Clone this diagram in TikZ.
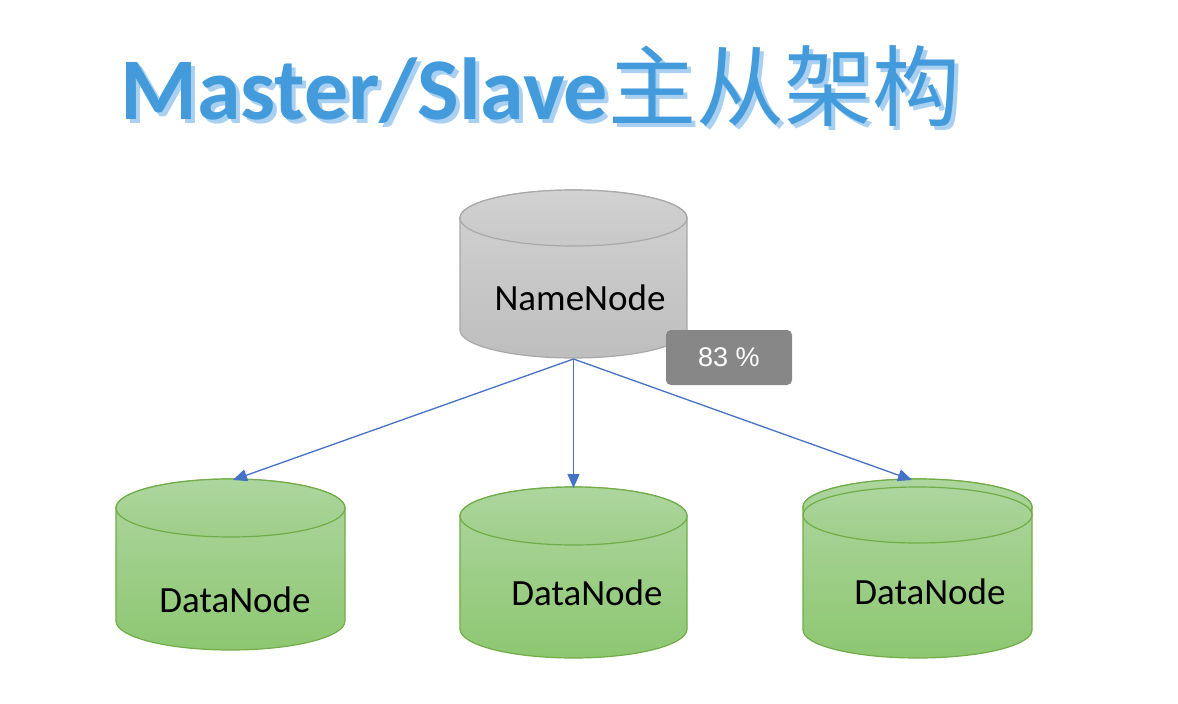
\documentclass[tikz,border=0pt]{standalone}
\usepackage{fontspec}
\setmainfont{Carlito}
\newfontfamily\cjk{Noto Sans CJK SC}
\newfontfamily\arialf{Liberation Sans}
\usetikzlibrary{arrows.meta}
\definecolor{titleblue}{HTML}{449BDB}
\definecolor{titleshadow}{HTML}{A9D0F0}
\definecolor{arrowblue}{HTML}{4472C4}
\definecolor{grayedge}{HTML}{A8A8A8}
\definecolor{graytop}{HTML}{D2D2D2}
\definecolor{graybot}{HTML}{BEBEBE}
\definecolor{greenedge}{HTML}{70AD47}
\definecolor{greentop}{HTML}{AED6A0}
\definecolor{greenbot}{HTML}{8DC771}
\definecolor{pctgray}{HTML}{878787}
\tikzset{
  conn/.style={draw=arrowblue, line width=1.3pt, -{Triangle[length=14pt,width=12pt]}},
  lbl/.style={font=\fontsize{37}{40}\selectfont, text=black, inner sep=0pt},
  pctbox/.style={fill=pctgray, rounded corners=5pt, minimum width=126pt, minimum height=55pt, text=white, font=\arialf\fontsize{27}{29}\selectfont},
  titletext/.style={font=\fontsize{88}{92}\selectfont, inner sep=0pt, anchor=base west},
}
\newcommand{\titlestr}{\bfseries Master/Slave{\cjk\mdseries 主从架构}}
% cylinder: #1 cx, #2 top-ellipse cy, #3 bottom-ellipse cy, #4 rx, #5 ry, #6 edge, #7 top, #8 bottom
\newcommand{\mycyl}[8]{%
  \path[draw=#6, line width=1.2pt, top color=#7, bottom color=#8]
    ({#1-#4},#2) -- ({#1-#4},#3)
    arc[start angle=180, end angle=360, x radius=#4pt, y radius=#5pt]
    -- ({#1+#4},#2)
    arc[start angle=0, end angle=180, x radius=#4pt, y radius=#5pt] -- cycle;
  \path[draw=#6, line width=1.2pt, top color=#7, bottom color=#8!50!#7]
    (#1,#2) ellipse[x radius=#4pt, y radius=#5pt];
}
\begin{document}
\begin{tikzpicture}[x=1pt,y=-1pt]
\useasboundingbox (0,0) rectangle (1178,704);

% title with soft offset shadow
\node[titletext, text=titleblue] (title) at (120,119)
  {\rlap{\hspace{4pt}\raisebox{-4pt}{\color{titleshadow}\titlestr}}\titlestr};

% NameNode
\mycyl{573.5}{218}{330}{113.5}{28}{grayedge}{graytop}{graybot}
\node[lbl] (nn) at (580,298) {NameNode};
\coordinate (nnb) at (573.5,359);

% DataNodes
\mycyl{230.5}{508}{621}{114.5}{29}{greenedge}{greentop}{greenbot}
\node[lbl] (dn1) at (235,600) {DataNode};
\coordinate (dn1t) at (233,480);

\mycyl{573.5}{516}{629}{113.5}{29}{greenedge}{greentop}{greenbot}
\node[lbl] (dn2) at (587,593) {DataNode};
\coordinate (dn2t) at (573.5,488);

\mycyl{917.5}{507}{630}{114.5}{28}{greenedge}{greentop}{greenbot}
\path[draw=greenedge, line width=1.2pt, top color=greentop, bottom color=greenbot!50!greentop]
  (917.5,515) ellipse[x radius=114.5pt, y radius=28pt];
\node[lbl] (dn3) at (930,592) {DataNode};
\coordinate (dn3t) at (912,480);

% connectors
\draw[conn] (nnb) -- (dn1t);
\draw[conn] (nnb) -- (dn2t);
\draw[conn] (nnb) -- (dn3t);

% percentage badge
\node[pctbox] (pct) at (729,357.5) {83 \%};
\end{tikzpicture}
\end{document}
